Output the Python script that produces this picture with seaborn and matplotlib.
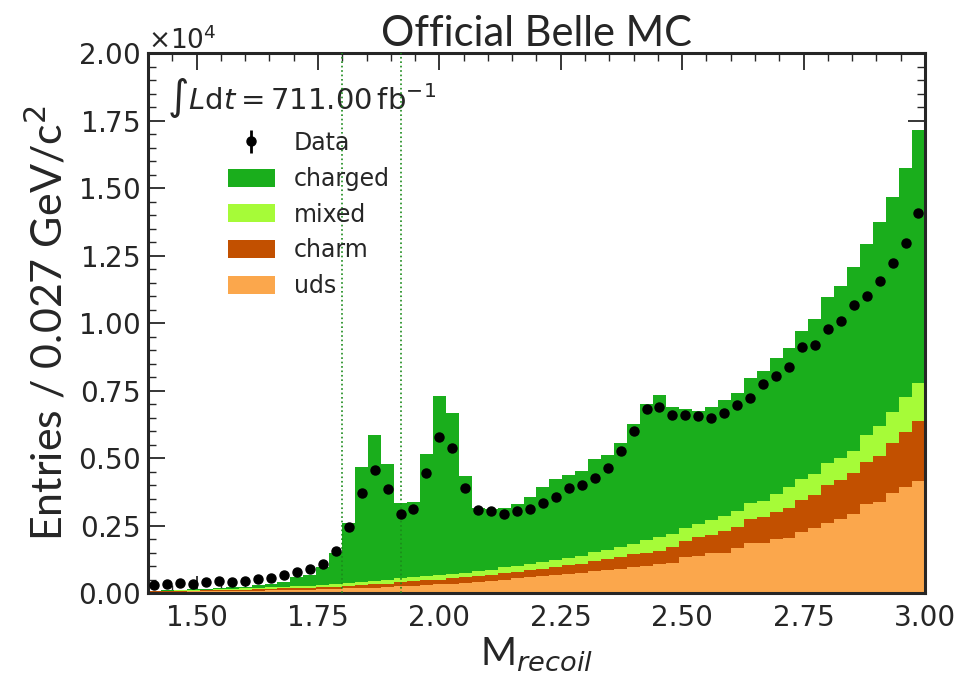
import numpy as np
import pandas as pd
import matplotlib
matplotlib.use("Agg")
import matplotlib.pyplot as plt
import seaborn as sns
from matplotlib.ticker import MultipleLocator
from matplotlib.patches import Patch

# ---------------- data (values in units of 10^4 entries) ----------------
x_min, x_max, n_bins = 1.4, 3.0, 60

uds_top = [0.004, 0.005, 0.005, 0.006, 0.006, 0.007, 0.008, 0.008, 0.009, 0.010,
           0.011, 0.012, 0.013, 0.014, 0.015, 0.017, 0.018, 0.020, 0.022, 0.025,
           0.027, 0.030, 0.032, 0.035, 0.038, 0.042, 0.046, 0.050, 0.054, 0.058,
           0.063, 0.066, 0.071, 0.074, 0.080, 0.085, 0.090, 0.096, 0.100, 0.106,
           0.112, 0.132, 0.137, 0.147, 0.149, 0.165, 0.184, 0.186, 0.199, 0.203,
           0.227, 0.240, 0.258, 0.273, 0.293, 0.330, 0.338, 0.369, 0.394, 0.416]
charm_top = [0.006, 0.007, 0.008, 0.009, 0.010, 0.011, 0.012, 0.013, 0.014, 0.015,
             0.017, 0.018, 0.020, 0.022, 0.024, 0.027, 0.029, 0.032, 0.035, 0.040,
             0.043, 0.047, 0.050, 0.054, 0.058, 0.063, 0.068, 0.074, 0.079, 0.084,
             0.090, 0.095, 0.103, 0.108, 0.118, 0.126, 0.135, 0.144, 0.150, 0.157,
             0.172, 0.194, 0.209, 0.215, 0.231, 0.246, 0.273, 0.280, 0.301, 0.314,
             0.344, 0.363, 0.400, 0.419, 0.443, 0.486, 0.507, 0.557, 0.597, 0.638]
mixed_top = [0.008, 0.009, 0.010, 0.011, 0.013, 0.014, 0.016, 0.017, 0.019, 0.021,
             0.023, 0.025, 0.027, 0.030, 0.033, 0.037, 0.040, 0.044, 0.048, 0.056,
             0.059, 0.063, 0.067, 0.072, 0.076, 0.081, 0.087, 0.095, 0.100, 0.107,
             0.116, 0.122, 0.131, 0.137, 0.152, 0.160, 0.172, 0.180, 0.195, 0.209,
             0.219, 0.240, 0.256, 0.270, 0.285, 0.304, 0.335, 0.342, 0.365, 0.391,
             0.421, 0.440, 0.483, 0.499, 0.527, 0.585, 0.620, 0.669, 0.727, 0.777]
total_top = [0.009, 0.010, 0.012, 0.014, 0.016, 0.018, 0.021, 0.024, 0.028, 0.034,
             0.042, 0.058, 0.068, 0.096, 0.148, 0.258, 0.465, 0.585, 0.477, 0.333,
             0.337, 0.515, 0.731, 0.667, 0.432, 0.314, 0.311, 0.316, 0.330, 0.354,
             0.394, 0.423, 0.436, 0.453, 0.495, 0.511, 0.557, 0.625, 0.699, 0.732,
             0.690, 0.680, 0.675, 0.688, 0.715, 0.742, 0.797, 0.821, 0.872, 0.906,
             0.970, 1.014, 1.095, 1.138, 1.209, 1.293, 1.375, 1.466, 1.575, 1.715]
data_vals = [0.0285, 0.032, 0.036, 0.032, 0.042, 0.046, 0.042, 0.046, 0.053, 0.057,
             0.068, 0.078, 0.088, 0.109, 0.154, 0.243, 0.372, 0.456, 0.385, 0.293,
             0.312, 0.446, 0.577, 0.538, 0.390, 0.307, 0.304, 0.294, 0.304, 0.311,
             0.332, 0.354, 0.388, 0.399, 0.425, 0.463, 0.527, 0.601, 0.683, 0.690,
             0.659, 0.659, 0.656, 0.647, 0.668, 0.696, 0.722, 0.774, 0.804, 0.838,
             0.912, 0.919, 0.977, 1.007, 1.065, 1.101, 1.157, 1.223, 1.295, 1.409]
cut_lines = [1.80, 1.92]

components = ["charged", "mixed", "charm", "uds"]
colors = {"charged": "#1aae1c", "mixed": "#a6fb38", "charm": "#c25000", "uds": "#fba74c"}

# ---------------- build table ----------------
edges = list(np.linspace(x_min, x_max, n_bins + 1))
centers = 0.5 * (np.array(edges[:-1]) + np.array(edges[1:]))
uds = np.array(uds_top)
charm = np.array(charm_top) - np.array(uds_top)
mixed = np.array(mixed_top) - np.array(charm_top)
charged = np.array(total_top) - np.array(mixed_top)
scale = 1e4
rows = []
for name, arr in [("charged", charged), ("mixed", mixed), ("charm", charm), ("uds", uds)]:
    for c, v in zip(centers, arr):
        rows.append({"x": c, "w": v * scale, "comp": name})
df = pd.DataFrame(rows)

# ---------------- plot ----------------
sns.set_style("ticks")
plt.rcParams["font.family"] = ["DejaVu Sans"]
plt.rcParams["mathtext.fontset"] = "dejavusans"

fig = plt.figure(figsize=(9.61, 6.84), dpi=100)
ax = fig.add_axes([0.154, 0.133, 0.8085, 0.7895])

sns.histplot(data=df, x="x", weights="w", hue="comp", hue_order=components,
             bins=edges, multiple="stack", element="bars", palette=colors,
             linewidth=0, alpha=1.0, legend=False, ax=ax)

dv = np.array(data_vals) * scale
ax.errorbar(centers, dv, yerr=np.sqrt(dv), fmt="o", color="black",
            markersize=6.5, elinewidth=1.5, capsize=0, zorder=5)

for xc in cut_lines:
    ax.axvline(xc, color="#1a8a1a", linestyle=":", linewidth=1.2, zorder=4)

ax.set_xlim(x_min, x_max)
ax.set_ylim(0, 2.0e4)
ax.ticklabel_format(axis="y", style="sci", scilimits=(0, 0), useMathText=True)
ax.yaxis.get_offset_text().set_fontsize(19)
ax.xaxis.set_major_locator(MultipleLocator(0.25))
ax.xaxis.set_minor_locator(MultipleLocator(0.05))
ax.yaxis.set_major_locator(MultipleLocator(2500))
ax.yaxis.set_minor_locator(MultipleLocator(500))
ax.tick_params(which="both", direction="in", top=True, right=True, labelsize=20)
ax.tick_params(which="major", length=12, width=1.3)
ax.tick_params(which="minor", length=6, width=1.0)
ax.tick_params(axis="x", pad=8)
ax.tick_params(axis="y", pad=6)
for s in ax.spines.values():
    s.set_linewidth(2.2)

ax.set_xlabel(r"M$_{recoil}$", fontsize=28, family="Lato", labelpad=2)
ax.set_ylabel(r"Entries / 0.027 GeV/c$^2$", fontsize=31, family="Lato", labelpad=6)
ax.set_title("Official Belle MC", fontsize=30, family="Lato", pad=4)

ax.text(0.025, 0.96, r"$\int L\mathrm{d}t = 711.00\,\mathrm{fb}^{-1}$",
        transform=ax.transAxes, fontsize=21, va="top", ha="left")

data_handle = ax.errorbar([], [], yerr=[], fmt="o", color="black", markersize=6.5,
                          elinewidth=2)
handles = [data_handle] + [Patch(facecolor=colors[c], edgecolor="none") for c in components]
ax.legend(handles, ["Data"] + components, loc="upper left",
          bbox_to_anchor=(0.075, 0.895), frameon=False, fontsize=17,
          handlelength=2.0, handleheight=0.8, labelspacing=0.5, handletextpad=0.8)

fig.savefig("out.png", dpi=100)
